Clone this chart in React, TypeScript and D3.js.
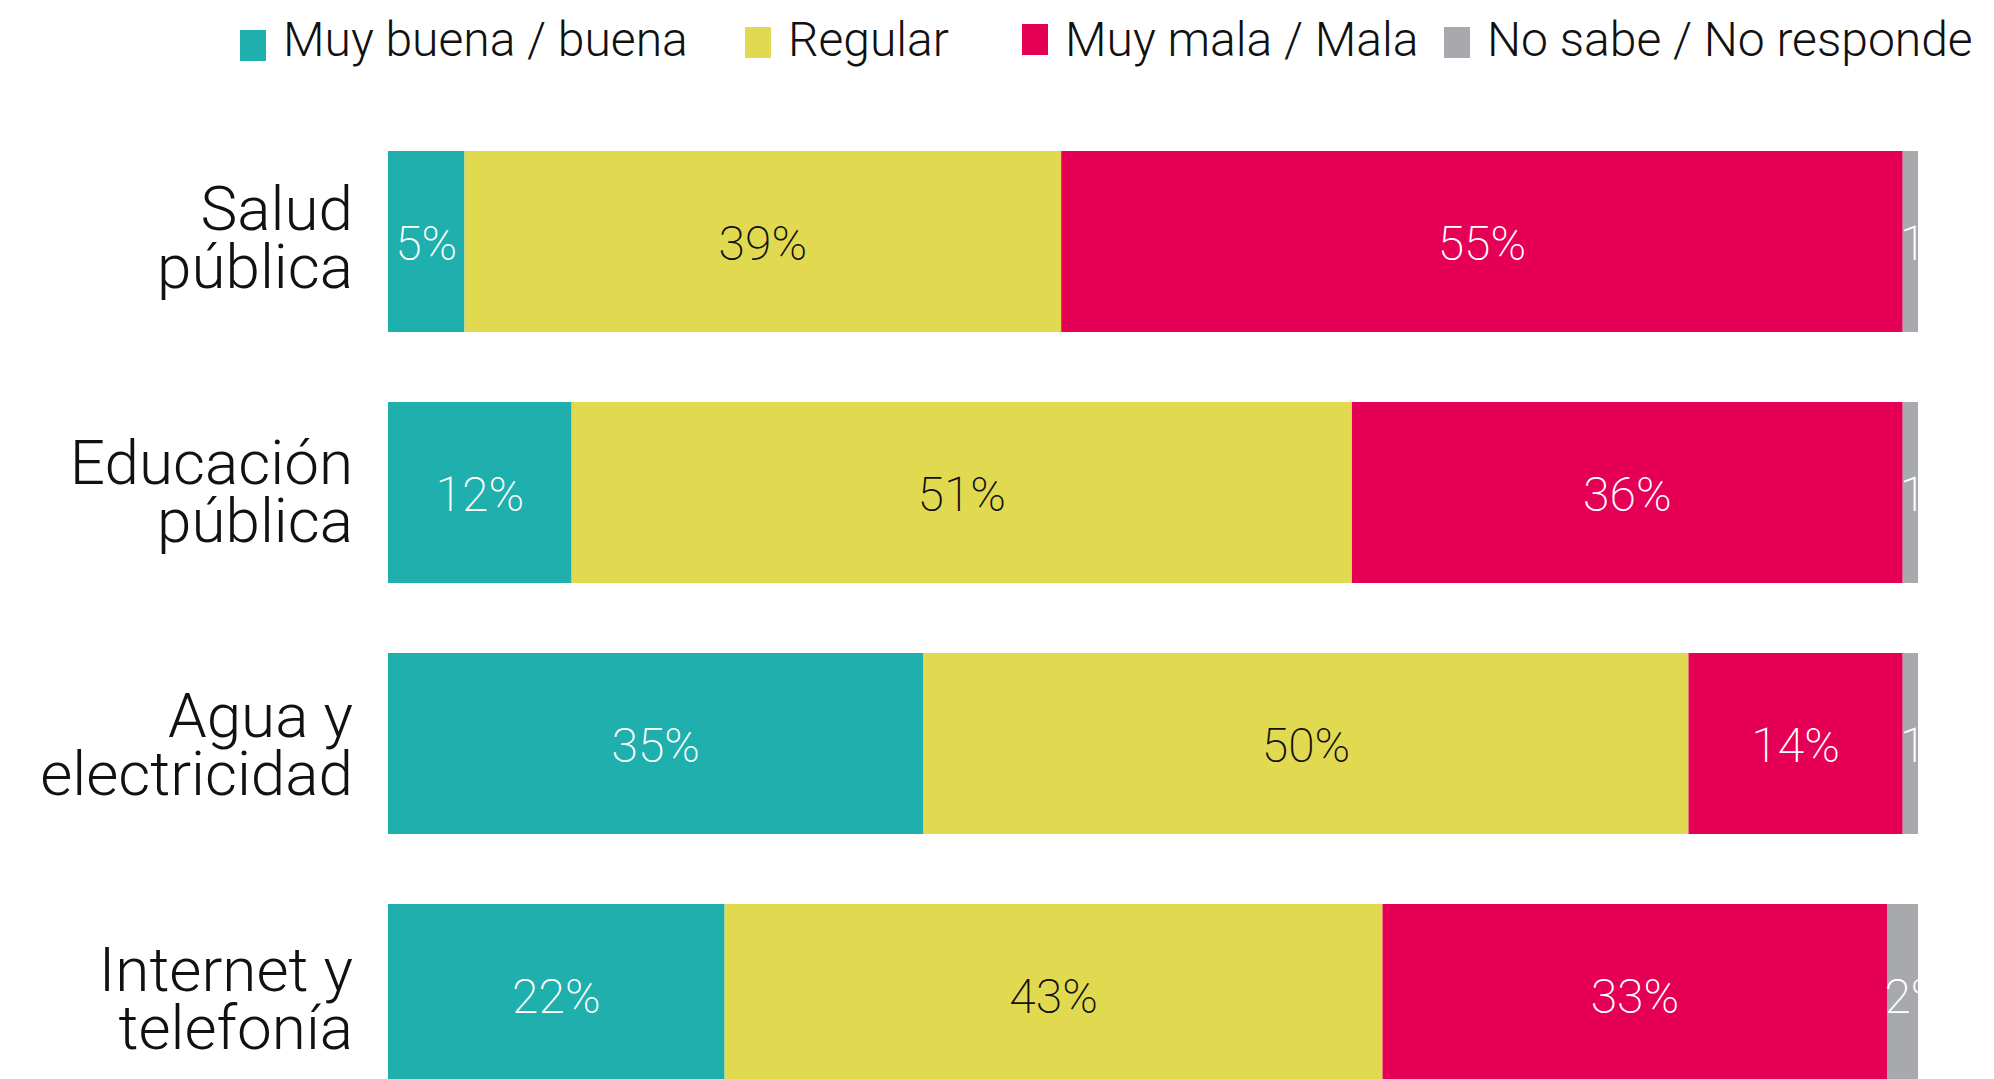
import React from "react";
import * as d3 from "d3";

const categories: string[][] = [
  ["Salud", "pública"],
  ["Educación", "pública"],
  ["Agua y", "electricidad"],
  ["Internet y", "telefonía"],
];
const seriesNames = ["Muy buena / buena", "Regular", "Muy mala / Mala", "No sabe / No responde"];
const muyBuena = [5, 12, 35, 22];
const regular = [39, 51, 50, 43];
const muyMala = [55, 36, 14, 33];
const noSabe = [1, 1, 1, 2];
const colors = ["#1fb0ae", "#e1da50", "#e50056", "#a8a9ad"];
const labelColors = ["#ffffff", "#111111", "#ffffff", "#ffffff"];

const W = 1994;
const H = 1079;

export default function App() {
  const series = [muyBuena, regular, muyMala, noSabe];
  const x = d3.scaleLinear().domain([0, 100]).range([388, 1918]);
  const y = d3
    .scaleBand<number>()
    .domain(d3.range(categories.length))
    .range([151, 1085])
    .paddingInner(70 / 251)
    .paddingOuter(0);
  const labelY = d3
    .scalePoint<number>()
    .domain(d3.range(categories.length))
    .range([230, 991]);

  const stackData = categories.map((_, i) => {
    const o: any = { idx: i };
    seriesNames.forEach((s, k) => (o[s] = series[k][i]));
    return o;
  });
  const stacked = d3.stack<any>().keys(seriesNames)(stackData);

  const legendX = [240, 745, 1022, 1444];
  const legendSwY = [30, 27, 24, 27];

  return (
    <svg
      width={W}
      height={H}
      style={{ position: "fixed", left: 0, top: 0, background: "#fff" }}
      fontFamily="Roboto, sans-serif"
    >
      <defs>
        <clipPath id="plotclip">
          <rect x={x(0)} y={0} width={x(100) - x(0)} height={H} />
        </clipPath>
      </defs>
      {/* legend */}
      {seriesNames.map((s, k) => (
        <g key={s}>
          <rect x={legendX[k]} y={legendSwY[k]} width={26} height={31} fill={colors[k]} />
          <text x={legendX[k] + 43} y={56} fontSize={48} fontWeight={300} fill="#111">
            {s}
          </text>
        </g>
      ))}
      {/* category labels */}
      {categories.map((lines, i) => {
        const by = labelY(i) as number;
        return (
          <text key={i} textAnchor="end" fontSize={62} fontWeight={300} fill="#111">
            <tspan x={353} y={by}>{lines[0]}</tspan>
            <tspan x={353} y={by + 58}>{lines[1]}</tspan>
          </text>
        );
      })}
      {/* bars */}
      {stacked.map((layer, k) => (
        <g key={k} fill={colors[k]}>
          {layer.map((d, i) => (
            <rect
              key={i}
              x={x(d[0])}
              y={y(i) as number}
              width={x(d[1]) - x(d[0])}
              height={y.bandwidth()}
            />
          ))}
        </g>
      ))}
      {/* value labels */}
      <g clipPath="url(#plotclip)">
        {stacked.map((layer, k) =>
          layer.map((d, i) => {
            const cy = (y(i) as number) + y.bandwidth() / 2;
            const last = k === stacked.length - 1;
            return (
              <text
                key={`${k}-${i}`}
                x={last ? x(d[0]) - 3 : (x(d[0]) + x(d[1])) / 2}
                y={cy + 18}
                textAnchor={last ? "start" : "middle"}
                fontSize={48}
                fontWeight={200}
                fill={labelColors[k]}
              >
                {`${series[k][i]}%`}
              </text>
            );
          })
        )}
      </g>
    </svg>
  );
}
